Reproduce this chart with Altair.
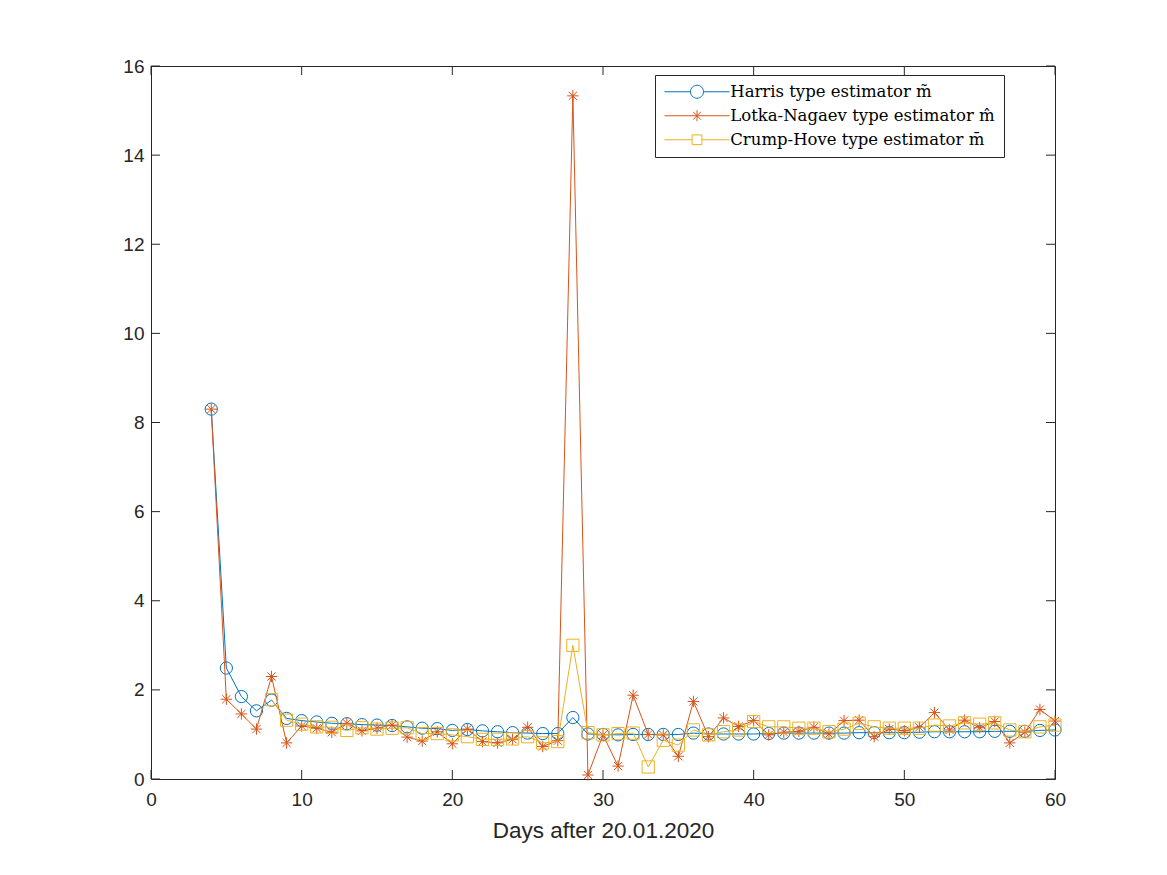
import altair as alt
import pandas as pd

days = [4, 5, 6, 7, 8, 9, 10, 11, 12, 13, 14, 15, 16, 17, 18, 19, 20, 21, 22, 23,
        24, 25, 26, 27, 28, 29, 30, 31, 32, 33, 34, 35, 36, 37, 38, 39, 40, 41, 42,
        43, 44, 45, 46, 47, 48, 49, 50, 51, 52, 53, 54, 55, 56, 57, 58, 59, 60]

harris = [8.30, 2.49, 1.85, 1.53, 1.77, 1.36, 1.31, 1.28, 1.25, 1.24, 1.22, 1.21,
          1.20, 1.17, 1.14, 1.13, 1.09, 1.11, 1.08, 1.06, 1.04, 1.03, 1.02, 1.02,
          1.38, 1.01, 1.00, 0.99, 1.00, 1.00, 1.00, 1.00, 1.03, 1.01, 1.01, 1.01,
          1.01, 1.02, 1.03, 1.03, 1.03, 1.03, 1.03, 1.04, 1.04, 1.04, 1.04, 1.05,
          1.06, 1.06, 1.06, 1.06, 1.07, 1.07, 1.07, 1.09, 1.10]

lotka = [8.30, 1.79, 1.46, 1.12, 2.30, 0.81, 1.19, 1.14, 1.05, 1.25, 1.08, 1.14,
         1.21, 0.94, 0.85, 1.06, 0.79, 1.12, 0.84, 0.81, 0.89, 1.16, 0.73, 0.86,
         15.33, 0.09, 0.99, 0.29, 1.88, 1.00, 0.99, 0.51, 1.74, 0.95, 1.37, 1.18,
         1.31, 0.99, 1.05, 1.07, 1.16, 1.01, 1.31, 1.32, 0.95, 1.12, 1.08, 1.16,
         1.49, 1.10, 1.32, 1.15, 1.29, 0.81, 1.05, 1.56, 1.30]

crump = [None, None, None, None, 1.78, 1.32, 1.23, 1.17, 1.16, 1.09, 1.15, 1.12,
         1.14, 1.15, 1.02, 1.02, 0.99, 0.95, 0.89, 0.89, 0.90, 0.95, 0.81, 0.84,
         3.00, 1.04, 0.99, 1.02, 1.03, 0.27, 0.87, 0.76, 1.10, 0.99, 1.06, 1.10,
         1.29, 1.17, 1.17, 1.14, 1.14, 1.06, 1.12, 1.25, 1.17, 1.14, 1.14, 1.14,
         1.21, 1.19, 1.26, 1.23, 1.26, 1.10, 1.06, 1.17, 1.21]

series_names = ["Harris type estimator m\u0303",
                "Lotka-Nagaev type estimator m\u0302",
                "Crump-Hove type estimator m\u0304"]
marker_keys = ["Harris", "Lotka-Nagaev", "Crump-Hove"]
series_values = [harris, lotka, crump]
colors = ["#0072BD", "#D95319", "#EDB120"]

x_ticks = [0, 10, 20, 30, 40, 50, 60]
y_ticks = [0, 2, 4, 6, 8, 10, 12, 14, 16]

star_path = "M-1,0L1,0M0,-1L0,1M-0.72,-0.72L0.72,0.72M-0.72,0.72L0.72,-0.72"
shapes = ["circle", star_path, "square"]
legend_shapes = [
    "M-5,0L-1,0M1,0L5,0M1,0A1,1,0,1,1,-1,0A1,1,0,1,1,1,0Z",
    "M-5,0L5,0M0,-0.85L0,0.85M-0.6,-0.6L0.6,0.6M-0.6,0.6L0.6,-0.6",
    "M-5,0L-0.75,0M0.75,0L5,0M-0.75,-0.75L0.75,-0.75L0.75,0.75L-0.75,0.75Z",
]

rows = []
for name, key, vals in zip(series_names, marker_keys, series_values):
    for d, v in zip(days, vals):
        if v is not None:
            rows.append({"day": d, "value": v, "series": name, "marker": key})
df = pd.DataFrame(rows)

W, H = 904, 713
AX = "#262626"

xs = alt.Scale(domain=[0, 60], nice=False, zero=False, padding=0)
ys = alt.Scale(domain=[0, 16], nice=False, zero=False, padding=0)

legend = alt.Legend(
    orient="none", legendX=504, legendY=9, title=None,
    symbolSize=169, symbolStrokeWidth=1, symbolOffset=25.25, labelOffset=25,
    labelFont="DejaVu Serif", labelFontSize=16.5, labelColor="black", labelLimit=400,
    strokeColor=AX, fillColor="white", padding=8.5, rowPadding=7)

layers = []
for i, (name, key) in enumerate(zip(series_names, marker_keys)):
    sub = alt.Chart(df).transform_filter(alt.datum.series == name)
    line = sub.mark_line(strokeWidth=1, color=colors[i]).encode(
        x=alt.X("day:Q", scale=xs,
                axis=alt.Axis(values=x_ticks, title="Days after 20.01.2020")),
        y=alt.Y("value:Q", scale=ys, axis=alt.Axis(values=y_ticks, title=None)),
        order="day:Q",
    )
    pts = sub.mark_point(filled=False, strokeWidth=1, opacity=1,
                         stroke=colors[i], shape=shapes[i],
                         size=150 if i != 1 else 130).encode(
        x="day:Q",
        y="value:Q",
    )
    layers += [line, pts]

legend_layer = alt.Chart(df).transform_filter("datum.day < 0").mark_point(
    filled=False, strokeWidth=1, opacity=1
).encode(
    x="day:Q",
    y="value:Q",
    stroke=alt.Stroke("series:N", scale=alt.Scale(domain=series_names, range=colors),
                      legend=legend),
    shape=alt.Shape("series:N", scale=alt.Scale(domain=series_names, range=legend_shapes),
                    legend=legend),
)

xt = pd.DataFrame({"t": x_ticks})
yt = pd.DataFrame({"t": y_ticks})
tick_layers = [
    alt.Chart(xt).mark_rule(color=AX, strokeWidth=1).encode(
        x=alt.X("t:Q", scale=xs), y=alt.value(H), y2=alt.value(H - 9)),
    alt.Chart(xt).mark_rule(color=AX, strokeWidth=1).encode(
        x=alt.X("t:Q", scale=xs), y=alt.value(0), y2=alt.value(9)),
    alt.Chart(yt).mark_rule(color=AX, strokeWidth=1).encode(
        y=alt.Y("t:Q", scale=ys), x=alt.value(0), x2=alt.value(9)),
    alt.Chart(yt).mark_rule(color=AX, strokeWidth=1).encode(
        y=alt.Y("t:Q", scale=ys), x=alt.value(W), x2=alt.value(W - 9)),
]

chart = alt.layer(*(tick_layers + layers + [legend_layer])).properties(
    width=W, height=H,
    autosize=alt.AutoSizeParams(type="none"),
    padding={"left": 143, "top": 58, "right": 104, "bottom": 88},
).configure_view(
    stroke=AX, strokeWidth=1
).configure_axis(
    grid=False, domain=False, ticks=False, tickSize=0, labelFlush=False,
    labelFont="Liberation Sans", labelFontSize=19, labelColor=AX,
    titleFont="Liberation Sans", titleFontSize=22.5, titleColor=AX,
    titleFontWeight="normal",
).configure_axisX(
    labelPadding=11, titlePadding=10,
).configure_axisY(
    labelPadding=7,
)

chart.save("out.html", embed_options={"renderer": "svg", "actions": False})
